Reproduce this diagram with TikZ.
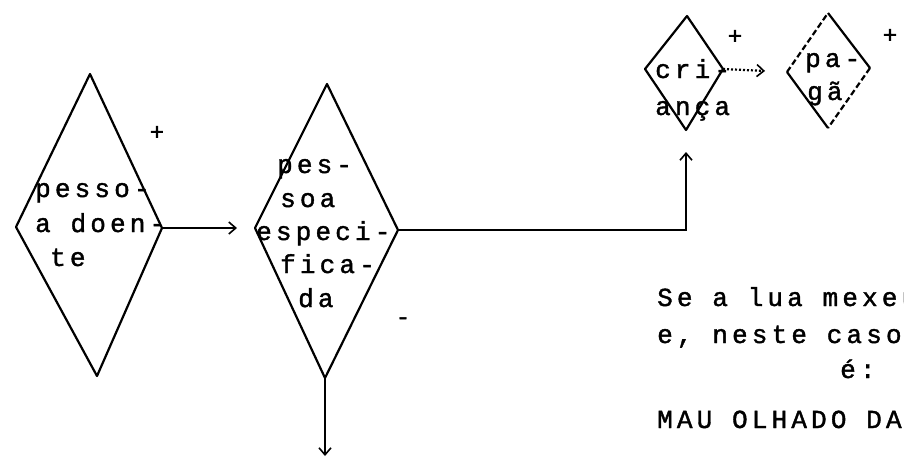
\documentclass[tikz,border=0pt]{standalone}
\usepackage{fontspec}
\newfontfamily\tw{Liberation Mono}[LetterSpace=16,FakeBold=1.5]
\usetikzlibrary{arrows.meta}
\begin{document}
\begin{tikzpicture}[x=1pt,y=-1pt,
  edge/.style={line width=2.2pt, line join=round},
  conn/.style={line width=2.2pt, -{Straight Barb[length=7pt,width=12pt,line width=1.6pt]}},
  lbl/.style={font=\tw\fontsize{26}{30}\selectfont, anchor=base west, inner sep=0pt},
  sign/.style={font=\tw\fontsize{24}{26}\selectfont, inner sep=0pt}]
\useasboundingbox (0,0) rectangle (904,471);
\clip (0,0) rectangle (904,471);
% diamond 1: pessoa doente
\coordinate (d1t) at (90,74);  \coordinate (d1r) at (162,228);
\coordinate (d1b) at (97,376); \coordinate (d1l) at (16,227);
\draw[edge] (d1t) -- (d1r) -- (d1b) -- (d1l) -- cycle;
\node[lbl] (t1a) at (35,197) {pesso-};
\node[lbl] (t1b) at (35,232) {a doen-};
\node[lbl] (t1c) at (50,266) {te};
\node[sign] (p1) at (157,133) {+};
% diamond 2: pessoa especificada
\coordinate (d2t) at (327,84);  \coordinate (d2r) at (398,230);
\coordinate (d2b) at (325,378); \coordinate (d2l) at (255,228);
\draw[edge] (d2t) -- (d2r) -- (d2b) -- (d2l) -- cycle;
\node[lbl] (t2a) at (277,173) {pes-};
\node[lbl] (t2b) at (280,207) {soa};
\node[lbl] (t2c) at (256,240) {especi-};
\node[lbl] (t2d) at (280,273) {fica-};
\node[lbl] (t2e) at (298,307) {da};
\node[sign] (m2) at (403,321) {-};
% diamond 3: crianca
\coordinate (d3t) at (687,16);  \coordinate (d3r) at (723,69);
\coordinate (d3b) at (686,130); \coordinate (d3l) at (645,69);
\draw[edge] (d3t) -- (d3r) -- (d3b) -- (d3l) -- cycle;
\node[lbl] (t3a) at (655,78) {cri-};
\node[lbl] (t3b) at (655,115) {ança};
\node[sign] (p3) at (735,37) {+};
% diamond 4: paga
\coordinate (d4t) at (828,13);  \coordinate (d4r) at (870,68);
\coordinate (d4b) at (828,128); \coordinate (d4l) at (787,72);
\draw[edge] (d4t) -- (d4r);
\draw[edge] (d4b) -- (d4l);
\draw[edge, dash pattern=on 6pt off 3pt] (d4l) -- (d4t);
\draw[edge, dash pattern=on 6pt off 3pt] (d4r) -- (d4b);
\node[lbl] (t4a) at (805,67) {pa-};
\node[lbl] (t4b) at (807,100) {gã};
\node[sign] (p4) at (890,36) {+};
% connectors
\coordinate (down) at (325,456);
\draw[conn] (d1r) -- (d2l) [shorten >=18pt];
\draw[conn] (d2b) -- (down);
\draw[conn, shorten >=22pt] (d2r) -| (d3b);
\draw[conn, dash pattern=on 2pt off 2pt, shorten >=22pt] (d3r) -- (d4l);
% text on the right
\node[lbl] (s1) at (657,306) {Se a lua mexeu};
\node[lbl] (s2) at (657,343) {e, neste caso};
\node[lbl] (s3) at (840,378) {é:};
\node[lbl] (s4) at (657,428) {MAU OLHADO DA};
\end{tikzpicture}
\end{document}
